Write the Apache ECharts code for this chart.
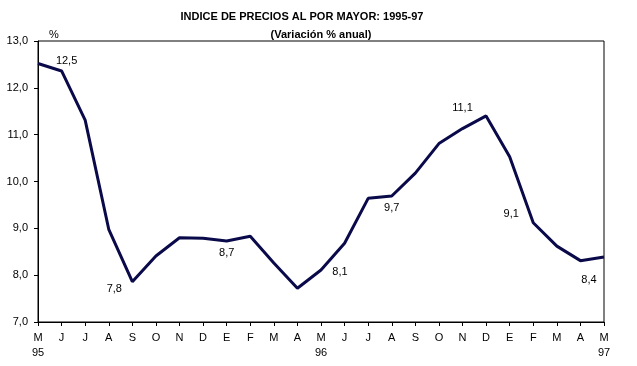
<!DOCTYPE html>
<html><head><meta charset="utf-8">
<script src="https://cdn.jsdelivr.net/npm/echarts@6/dist/echarts.min.js"></script>
<style>html,body{margin:0;padding:0;background:#fff}#c{width:637px;height:366px}</style>
</head><body><div id="c"></div>
<script>
const months = ['M','J','J','A','S','O','N','D','E','F','M','A','M','J','J','A','S','O','N','D','E','F','M','A','M'];
const years = {0:'95',12:'96',24:'97'};
const values = [12.52,12.36,11.31,8.98,7.86,8.41,8.80,8.79,8.73,8.83,8.26,7.72,8.11,8.68,9.64,9.69,10.18,10.81,11.13,11.40,10.53,9.12,8.62,8.31,8.39];
const labelTexts = {1:'12,5',4:'7,8',8:'8,7',12:'8,1',15:'9,7',18:'11,1',21:'9,1',24:'8,4'};
const labelOffsets = {1:[5,-10],4:[-18,7],8:[0,12],12:[19,2],15:[0,12],18:[0,-21],21:[-22,-9],24:[-15,23]};
const yTicks = {min:7,max:13,interval:1};

const cats = months.map((m,i)=> years[i] ? m+'\n'+years[i] : m);
const data = values.map((v,i)=>{
  const o = {value:v};
  if (labelTexts[i]) {
    o.label = {show:true, position:'inside', offset:labelOffsets[i], formatter:labelTexts[i]};
  }
  return o;
});
const font = 'Liberation Sans, Arial, sans-serif';
const chart = echarts.init(document.getElementById('c'), null, {renderer:'canvas'});
chart.setOption({
  animation:false,
  textStyle:{fontFamily:font},
  title:[
    {text:'INDICE DE PRECIOS AL POR MAYOR: 1995-97', left:297, top:6, textAlign:'center',
     textStyle:{fontFamily:font, fontSize:11, fontWeight:'bold', color:'#000'}},
    {text:'(Variación % anual)', left:316, top:24, textAlign:'center',
     textStyle:{fontFamily:font, fontSize:11, fontWeight:'bold', color:'#000'}},
    {text:'%', left:44, top:24, textStyle:{fontFamily:font, fontSize:11, fontWeight:'normal', color:'#000'}}
  ],
  grid:{left:38, right:33, top:41, bottom:44, show:true, borderColor:'#000', borderWidth:1, backgroundColor:'transparent'},
  xAxis:{type:'category', data:cats, boundaryGap:false,
    axisLine:{lineStyle:{color:'#000', width:1}},
    axisTick:{show:true, length:4, lineStyle:{color:'#000'}},
    axisLabel:{interval:0, color:'#000', fontSize:11, fontFamily:font, lineHeight:15, margin:8}
  },
  yAxis:{type:'value', min:yTicks.min, max:yTicks.max, interval:yTicks.interval,
    splitLine:{show:false},
    axisLine:{show:true, lineStyle:{color:'#000', width:1}},
    axisTick:{show:true, length:4, lineStyle:{color:'#000'}},
    axisLabel:{color:'#000', fontSize:11, fontFamily:font, margin:10, formatter:v=>v.toFixed(1).replace('.',',')}
  },
  series:[{type:'line', data:data, symbol:'circle', symbolSize:0, showSymbol:true,
    itemStyle:{color:'#0a0a4a'},
    lineStyle:{color:'#0a0a4a', width:3},
    label:{show:false, color:'#000', fontSize:11, fontFamily:font}}]
});
</script></body></html>
